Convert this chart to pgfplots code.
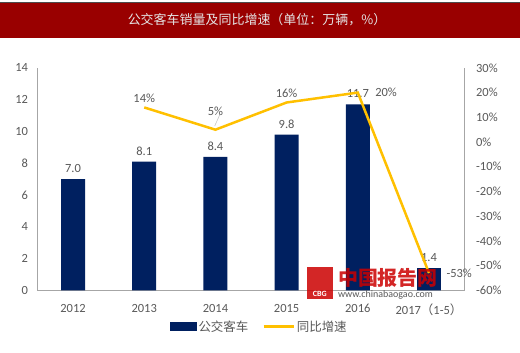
\documentclass[border=0pt]{standalone}
\usepackage{pgfplots}
\pgfplotsset{compat=1.18}
\usepackage{fontspec}
\setmainfont{Carlito}
\newfontfamily\cjk{Noto Sans CJK SC}
\definecolor{barblue}{HTML}{002060}
\definecolor{lineyel}{HTML}{FFC000}
\definecolor{titlered}{HTML}{990000}
\definecolor{txtgrey}{HTML}{595959}
\definecolor{axgrey}{HTML}{A6A6A6}
\begin{document}
\begin{tikzpicture}[x=1pt,y=1pt]
\path[fill=white] (0,0) rectangle (520,353);
\fill[titlered] (0,315) rectangle (520,350);
\draw[gray!60!black, line width=1pt] (0,350.5) -- (520,350.5);
\node[text=white!90!black, font=\cjk\fontsize{13}{15}\selectfont] at (257,333) {公交客车销量及同比增速（单位：万辆，\%）};
\begin{axis}[
  at={(37pt,62pt)}, anchor=south west, scale only axis,
  width=428pt, height=223pt,
  xmin=-0.5, xmax=5.5, ymin=0, ymax=14, ytick={0,2,...,14},
  xtick={0,...,5},
  xticklabels={2012,2013,2014,2015,2016,{2017{\cjk（}1-5{\cjk）}}},
  axis y line*=left, axis x line*=bottom,
  axis line style={axgrey},
  major tick length=0pt,
  /pgf/number format/assume math mode=true,
  ticklabel style={text=txtgrey, font=\fontsize{12.5}{14}\selectfont},
  yticklabel style={xshift=-6pt},
  xticklabel style={yshift=-10pt},
  ybar, bar width=24pt,
  nodes near coords,
  nodes near coords style={text=txtgrey, font=\fontsize{12.5}{14}\selectfont, yshift=3pt,
    /pgf/number format/.cd, fixed, fixed zerofill, precision=1},
  legend style={at={(0.519,-0.163)}, anchor=center, draw=none, fill=none,
    legend columns=2, font=\cjk\fontsize{12.5}{14}\selectfont, text=txtgrey,
    /tikz/every even column/.append style={column sep=12pt}},
]
\addplot[draw=none, fill=barblue,
  legend image code/.code={\fill[barblue] (0pt,-4.5pt) rectangle (27pt,4.5pt);}]
  coordinates {(0,7.0) (1,8.1) (2,8.4) (3,9.8) (4,11.7) (5,1.4)};
\addlegendentry{公交客车}
\addlegendimage{lineyel, line width=2.5pt,
  legend image code/.code={\draw[lineyel, line width=2.5pt] (0pt,0pt) -- (30pt,0pt);}}
\addlegendentry{同比增速}
\end{axis}
\begin{axis}[
  at={(37pt,62pt)}, anchor=south west, scale only axis,
  width=428pt, height=223pt,
  xmin=-0.5, xmax=5.5, ymin=-60, ymax=30, ytick={-60,-50,...,30},
  axis y line*=right, axis x line=none,
  axis line style={axgrey},
  major tick length=0pt,
  /pgf/number format/assume math mode=true,
  yticklabel={\pgfmathprintnumber{\tick}\%},
  ticklabel style={text=txtgrey, font=\fontsize{12.5}{14}\selectfont},
  yticklabel style={xshift=8pt},
  clip=false,
]
\addplot[lineyel, line width=2.5pt, mark=none]
  coordinates {(1,14) (2,5) (3,16) (4,20) (5,-53)};
\addplot[draw=none, mark=none, nodes near coords={\pgfmathprintnumber{\pgfplotspointmeta}\%},
  point meta=y,
  nodes near coords style={text=txtgrey, font=\fontsize{12.5}{14}\selectfont, anchor=south, yshift=1pt}]
  coordinates {(1,14) (3,16)};
\addplot[draw=none, mark=none, nodes near coords={\pgfmathprintnumber{\pgfplotspointmeta}\%},
  point meta=y,
  nodes near coords style={text=txtgrey, font=\fontsize{12.5}{14}\selectfont, anchor=south, yshift=11pt}]
  coordinates {(2,5)};
\draw[gray!60] (axis cs:2.06,11) -- (axis cs:1.99,6.5);
\addplot[draw=none, mark=none, nodes near coords={\pgfmathprintnumber{\pgfplotspointmeta}\%},
  point meta=y,
  nodes near coords style={text=txtgrey, font=\fontsize{12.5}{14}\selectfont, anchor=west, xshift=14pt}]
  coordinates {(4,20) (5,-53)};
\end{axis}
\fill[red!80!black, opacity=0.85] (307,53) rectangle (333,85);
\node[text=white, font=\bfseries\fontsize{8}{9}\selectfont] at (320,59) {CBG};
\node[text=red!80!black, opacity=0.85, font=\cjk\bfseries\fontsize{20}{22}\selectfont, anchor=west, inner sep=0pt] at (338,75) {中国报告网};
\node[text=gray!70!black, font=\fontsize{10}{11}\selectfont, anchor=west, inner sep=0pt] at (338,58) {www.chinabaogao.com};
\end{tikzpicture}
\end{document}
